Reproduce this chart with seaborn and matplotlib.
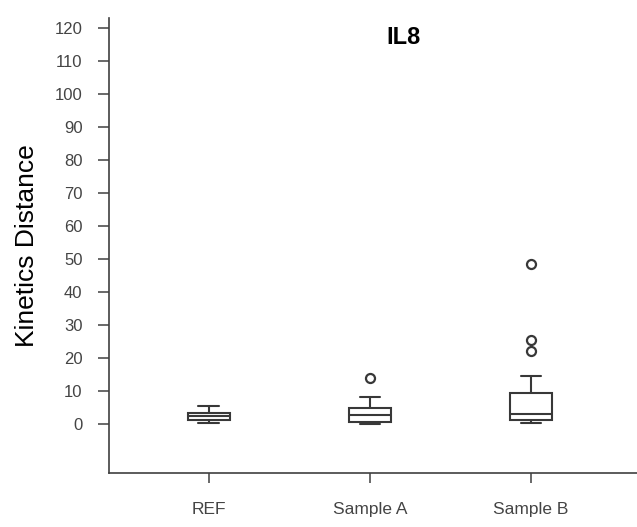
import numpy as np
import pandas as pd
import matplotlib
matplotlib.use("Agg")
import matplotlib.pyplot as plt
import seaborn as sns

categories = ["REF", "Sample A", "Sample B"]
ref_values = [0.2, 0.8, 1.2, 1.8, 2.4, 2.8, 3.2, 4.2, 5.4]
sample_a_values = [0.1, 0.3, 0.4, 0.5, 1.5, 2.1, 2.7, 3.3, 4.0, 4.75, 6.0, 8.3, 13.8]
sample_b_values = [0.2, 0.4, 0.6, 0.8, 1.0, 1.2, 1.5, 1.8, 2.2, 2.6, 3.0, 4.0, 5.5,
                   7.0, 8.2, 9.3, 12.0, 14.5, 22.2, 25.5, 48.6]
y_ticks = [0, 10, 20, 30, 40, 50, 60, 70, 80, 90, 100, 110, 120]

df = pd.DataFrame({
    "group": (["REF"] * len(ref_values) + ["Sample A"] * len(sample_a_values)
              + ["Sample B"] * len(sample_b_values)),
    "value": ref_values + sample_a_values + sample_b_values,
})

sns.set_theme(style="ticks")
plt.rcParams["font.family"] = ["Liberation Sans", "DejaVu Sans"]

fig = plt.figure(figsize=(6.37, 5.27), dpi=100)
ax = fig.add_axes([0.171, 0.1025, 0.829, 0.8635])

line_col = "#383838"
sns.boxplot(data=df, x="group", y="value", order=categories, ax=ax,
            width=0.26, color="white", linecolor=line_col, linewidth=1.5,
            fliersize=6.5,
            flierprops=dict(marker="o", markerfacecolor="white",
                            markeredgecolor=line_col, markeredgewidth=1.6),
            medianprops=dict(color=line_col, linewidth=1.5))

ax.set_xlim(-0.621, 2.658)
ax.set_ylim(-14.85, 123.0)
ax.set_yticks(y_ticks)
ax.set_yticklabels([str(t) for t in y_ticks])

for side in ["top", "right"]:
    ax.spines[side].set_visible(False)
for side in ["left", "bottom"]:
    ax.spines[side].set_color("#404040")
    ax.spines[side].set_linewidth(1.2)

ax.tick_params(axis="y", length=8, width=1.1, color="#404040", pad=11,
               labelsize=12, labelcolor="#444444")
ax.tick_params(axis="x", length=7, width=1.1, color="#404040", pad=14,
               labelsize=12.5, labelcolor="#444444")

ax.set_xlabel("")
ax.set_ylabel("Kinetics Distance", fontsize=19, color="black", labelpad=11)
ax.text(1.21, 117, "IL8", fontsize=17, fontweight="bold", ha="center",
        va="center", color="black")

fig.savefig("out.png", dpi=100)
